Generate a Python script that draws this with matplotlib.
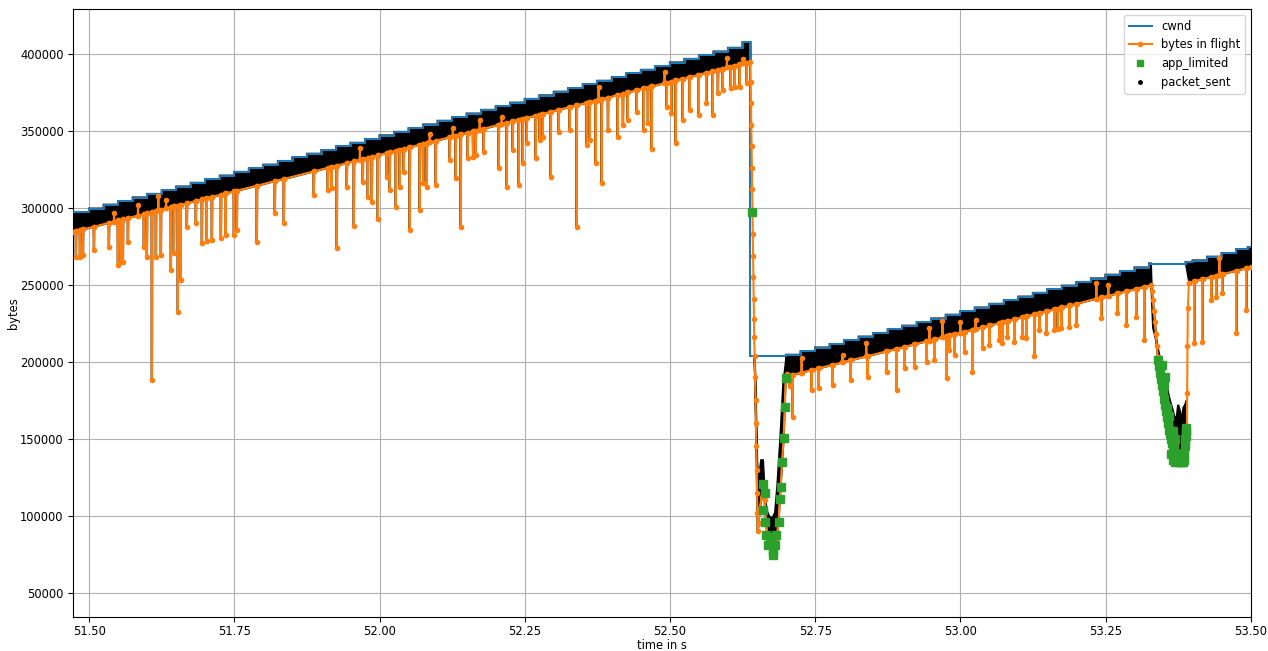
import matplotlib
matplotlib.use('Agg')
import matplotlib.pyplot as plt
from matplotlib.lines import Line2D

plt.rcParams['font.size'] = 8.3

# cwnd (step value starts at the given time)
cwnd1_t = [51.4725, 51.500, 51.525, 51.550, 51.575, 51.600, 51.625, 51.650, 51.675, 51.700,
           51.725, 51.750, 51.775, 51.800, 51.825, 51.850, 51.875, 51.900, 51.925, 51.950,
           51.975, 52.000, 52.025, 52.050, 52.075, 52.100, 52.125, 52.150, 52.175, 52.200,
           52.225, 52.250, 52.275, 52.300, 52.325, 52.350, 52.375, 52.400, 52.425, 52.450,
           52.475, 52.500, 52.525, 52.550, 52.575, 52.600, 52.625]
cwnd1_v = [297200, 299500, 302000, 304300, 306700, 309000, 311400, 313800, 316200, 318500,
           320900, 323300, 325600, 328000, 330400, 332800, 335100, 337500, 339900, 342200,
           344600, 347000, 349300, 351700, 354100, 356500, 358800, 361200, 363600, 365900,
           368300, 370700, 373000, 375400, 377800, 380200, 382500, 384900, 387300, 389600,
           392000, 394400, 396700, 399100, 401500, 403900, 407500]
cwnd1_end = 52.6385

cwnd2_t = [52.6385, 52.700, 52.725, 52.750, 52.775, 52.800, 52.825, 52.850, 52.875, 52.900,
           52.925, 52.950, 52.975, 53.000, 53.025, 53.050, 53.075, 53.100, 53.125, 53.150,
           53.175, 53.200, 53.225, 53.250, 53.275, 53.300, 53.325]
cwnd2_v = [204000, 204500, 206800, 209200, 211500, 213900, 216300, 218600, 221000, 223400,
           225700, 228100, 230500, 232800, 235200, 237600, 239900, 242300, 244700, 247000,
           249400, 251800, 254100, 256500, 258900, 261200, 263800]
cwnd2_end = 53.388

cwnd3_t = [53.388, 53.400, 53.425, 53.450, 53.475, 53.495]
cwnd3_v = [264800, 265800, 268200, 270600, 273000, 274500]
cwnd3_end = 53.5

# bytes in flight: spikes (time, spike value, baseline value) per segment
spk1_t = [51.4771, 51.4840, 51.4892, 51.5081, 51.5339, 51.5427, 51.5494, 51.5580, 51.5666, 51.5840,
          51.5993, 51.6079, 51.6148, 51.6190, 51.6234, 51.6323, 51.6406, 51.6526, 51.6681, 51.6836,
          51.6940, 51.7112, 51.7267, 51.7491, 51.7886, 51.8196, 51.8351, 51.8867, 51.9108, 51.9263,
          51.9435, 51.9556, 51.9660, 51.9711, 51.9866, 51.9969, 52.0124, 52.0279, 52.0416, 52.0519,
          52.0691, 52.0812, 52.0863, 52.0967, 52.1208, 52.1260, 52.1311, 52.1397, 52.1518, 52.1655,
          52.1723, 52.1793, 52.2051, 52.2102, 52.2189, 52.2292, 52.2395, 52.2533, 52.2688, 52.2808,
          52.2946, 52.3083, 52.3273, 52.3393, 52.3565, 52.3720, 52.3770, 52.3824, 52.4099, 52.4271,
          52.4426, 52.4547, 52.4684, 52.4907, 52.4943, 52.5098, 52.5218, 52.5493, 52.5734, 52.5906,
          52.5980, 52.6044, 52.6199, 52.6260, 52.6319,
          51.5540, 51.5941, 51.6458, 51.6573, 51.7020, 51.7347, 51.7542, 51.9172, 51.9797, 52.0175,
          52.0347, 52.0750, 52.1609, 52.2464, 52.2757, 52.3617, 52.3932, 52.4190, 52.4620, 52.5023,
          52.5338, 52.5625, 52.5825, 52.6112]
spk1_v = [268100, 268100, 269400, 272700, 274600, 296700, 262900, 264900, 277900, 301900,
          268100, 188200, 268100, 307700, 269400, 305100, 259700, 232400, 287600, 290200,
          277200, 279200, 280500, 282400, 277900, 296700, 290200, 308400, 311600, 273900,
          313600, 288300, 338900, 316800, 303800, 292800, 320100, 300600, 323300, 285600,
          298600, 313600, 348000, 314900, 331100, 351900, 319400, 287600, 332400, 334400,
          357100, 336300, 325900, 359100, 313600, 337600, 314900, 342200, 332400, 346100,
          320100, 349300, 350600, 287600, 340900, 329200, 378600, 316200, 346100, 357100,
          362300, 350600, 338300, 388300, 365600, 342200, 357100, 360400, 360400, 376600,
          397400, 377900, 378600, 396700, 381200,
          264900, 274800, 270700, 253200, 278500, 282400, 285600, 312900, 307300, 311600,
          313800, 316000, 333000, 329200, 344100, 344100, 350600, 353900, 355000, 361700,
          363600, 368200, 374700, 378800]
spk1_base = [284900, 285600, 286000, 287800, 290300, 291100, 291800, 292600, 293400, 295000,
             296500, 297300, 298000, 298400, 298800, 299600, 300400, 301500, 303000, 304500,
             305500, 307100, 308600, 310700, 314400, 317400, 318800, 323700, 326000, 327500,
             329100, 330300, 331200, 331700, 333200, 334200, 335600, 337100, 338400, 339400,
             341000, 342200, 342600, 343600, 345900, 346400, 346900, 347700, 348900, 350200,
             350800, 351500, 353900, 354400, 355200, 356200, 357200, 358500, 360000, 361100,
             362400, 363700, 365500, 366600, 368300, 369700, 370200, 370700, 373300, 375000,
             376400, 377600, 378900, 381000, 381300, 382800, 383900, 386500, 388800, 390500,
             391200, 391800, 393200, 393800, 394400,
             291700, 296000, 300900, 302000, 306300, 309400, 311200, 326800, 332500, 336100,
             337800, 341600, 349700, 357900, 360600, 368800, 371700, 374200, 378200, 382100,
             385000, 387800, 389700, 392400]
seg1_start = (51.4725, 284500)
seg1_end = (52.6385, 395000)

# drop after the loss and first dip
dip1_t = [52.6390, 52.6395, 52.6400, 52.6405, 52.6410, 52.6415, 52.6420, 52.6425, 52.6430, 52.6435,
          52.6440, 52.6445, 52.6450, 52.6457, 52.6465, 52.6473, 52.6480, 52.6487, 52.6494, 52.6500,
          52.6505, 52.6510, 52.6526, 52.6543, 52.6578, 52.6600, 52.6629, 52.6658, 52.6680, 52.6732,
          52.6771, 52.6830, 52.6870, 52.6887, 52.6904, 52.6927, 52.6956, 52.6973, 52.6991, 52.7008]
dip1_v = [382000, 368000, 354000, 340000, 326000, 312000, 297000, 283000, 269000, 255000,
          241000, 228000, 216000, 204000, 190000, 175000, 160000, 145000, 130000, 115000,
          102000, 90000, 95000, 105000, 112000, 121000, 110000, 95000, 86000, 82000,
          78000, 85000, 96000, 110000, 118000, 134000, 150000, 170000, 189000, 192000]
dip1_top_t = [52.6457, 52.6480, 52.6500, 52.6520, 52.6545, 52.6570, 52.6600, 52.6630, 52.6660,
              52.6700, 52.6760, 52.6810, 52.6850, 52.6900, 52.6950, 52.7008]
dip1_top_v = [204000, 170000, 135000, 125000, 128000, 136000, 136000, 115000, 104000,
              100000, 98000, 102000, 120000, 150000, 185000, 204000]

spk2_t = [52.7059, 52.7111, 52.7266, 52.7438, 52.7558, 52.7799, 52.7971, 52.8109, 52.8380, 52.8401,
          52.8728, 52.8901, 52.9038, 52.9210, 52.9417, 52.9468, 52.9554, 52.9692, 52.9761, 52.9899,
          53.0000, 53.0071, 53.0208, 53.0262, 53.0381, 53.0501, 53.0725, 53.0811, 53.0931, 53.1138,
          53.1275, 53.1482, 53.1620, 53.1740, 53.1878, 53.1998, 53.2342, 53.2427, 53.2548, 53.2704,
          53.2859, 53.3031, 53.3169,
          52.9812, 53.0673, 53.1069, 53.1362, 53.1677]
spk2_v = [184300, 164000, 202500, 181700, 183000, 184900, 204400, 188100, 212200, 190000,
          193400, 181700, 196000, 196600, 199900, 222000, 201200, 226500, 189500, 204400,
          225900, 206400, 193400, 227200, 209000, 210900, 212200, 216100, 212900, 215500,
          203800, 218700, 220700, 222000, 222600, 223900, 251200, 228500, 249900, 231700,
          223900, 229100, 214200,
          207700, 214200, 216300, 220700, 221300]
spk2_base = [191100, 191500, 193000, 194600, 195800, 198000, 199700, 201000, 203500, 203700,
             206800, 208400, 209700, 211400, 213300, 213800, 214600, 215900, 216600, 217900,
             218800, 219500, 220800, 221300, 222400, 223600, 225700, 226500, 227600, 229600,
             230900, 232800, 234100, 235300, 236600, 237700, 241000, 241800, 242900, 244400,
             245800, 247400, 248800,
             217100, 225200, 228900, 231700, 234600]
seg2_start = (52.7025, 191000)
seg2_end = (53.3280, 249800)

# second dip
dip2_t = [53.3297, 53.3314, 53.3331, 53.3349, 53.3366, 53.3383, 53.3400, 53.3435, 53.3469, 53.3504,
          53.3538, 53.3573, 53.3607, 53.3642, 53.3676, 53.3711, 53.3745, 53.3779, 53.3814, 53.3848,
          53.3883, 53.3900, 53.3905, 53.3910, 53.3917, 53.3934]
dip2_v = [246000, 240000, 233000, 226000, 218000, 210000, 203000, 195000, 188000, 181000,
          174000, 168000, 162000, 156000, 150000, 146000, 142000, 139000, 137000, 135000,
          136000, 150000, 180000, 210000, 235000, 251000]
dip2_top_t = [53.3280, 53.3300, 53.3320, 53.3360, 53.3420, 53.3480, 53.3540, 53.3600, 53.3660,
              53.3700, 53.3730, 53.3750, 53.3780, 53.3810, 53.3840, 53.3870, 53.3900]
dip2_top_v = [263500, 240000, 222000, 216000, 205000, 196000, 186000, 176000, 168000,
              162000, 165000, 172000, 168000, 160000, 170000, 172000, 175000]

spk3_t = [53.4029, 53.4167, 53.4322, 53.4408, 53.4460, 53.4511, 53.4752, 53.4924]
spk3_v = [212200, 212900, 240100, 242100, 267500, 244700, 218700, 233700]
spk3_base = [252400, 253700, 255200, 256000, 256500, 256900, 259200, 260800]
seg3_start = (53.3945, 251100)
seg3_end = (53.5, 261500)

# app_limited markers
app_t = [52.6420, 52.6600, 52.6629, 52.6600, 52.6641, 52.6658, 52.6680, 52.6715, 52.6744, 52.6766,
         52.6771, 52.6801, 52.6830, 52.6870, 52.6887, 52.6904, 52.6927, 52.6956, 52.6973, 52.6991,
         53.3400, 53.3417, 53.3435, 53.3452, 53.3469, 53.3486, 53.3504, 53.3521, 53.3538, 53.3556,
         53.3573, 53.3590, 53.3607, 53.3625, 53.3642, 53.3659, 53.3676, 53.3693, 53.3711, 53.3728,
         53.3745, 53.3762, 53.3779, 53.3797, 53.3814, 53.3831, 53.3848, 53.3866, 53.3883, 53.3890,
         53.3470, 53.3500, 53.3520, 53.3560, 53.3590, 53.3625, 53.3660, 53.3660, 53.3690, 53.3700,
         53.3740, 53.3850, 53.3870, 53.3880]
app_v = [297000, 120900, 114800, 103700, 96100, 87500, 81000, 84200, 86200, 74500,
         77400, 81000, 87500, 96100, 110900, 118400, 134600, 150700, 170700, 189200,
         201000, 197000, 193000, 189000, 185000, 181000, 176000, 172000, 168000, 164000,
         160000, 156000, 153000, 150000, 147000, 145000, 143000, 141000, 139000, 138000,
         137000, 136000, 135500, 135000, 135000, 135000, 136000, 145000, 152000, 157000,
         198000, 185000, 190000, 170000, 165000, 140000, 136000, 155000, 150000, 135000,
         135000, 140000, 150000, 155000]


def spike_path(start, end, ts, vs, bases, d=0.0005):
    xs, ys = [start[0]], [start[1]]
    for t, v, b in sorted(zip(ts, vs, bases)):
        xs += [t - d, t, t + d]
        ys += [b, v, b]
    xs.append(end[0])
    ys.append(end[1])
    return xs, ys


def step_path(ts, vs, t_end):
    xs, ys = [], []
    for i in range(len(ts)):
        nxt = ts[i + 1] if i + 1 < len(ts) else t_end
        xs += [ts[i], nxt]
        ys += [vs[i], vs[i]]
    return xs, ys


def band(ax, top_x, top_y, bot_x, bot_y):
    #packet_sent dots fill the space between bytes in flight and cwnd
    ax.fill(list(top_x) + list(bot_x[::-1]), list(top_y) + list(bot_y[::-1]),
            facecolor='black', edgecolor='black', lw=1.6, zorder=2)


fig = plt.figure(figsize=(12.68, 6.51), dpi=100)
ax = fig.add_axes([0.0578, 0.0522, 0.9286, 0.9335])

s1x, s1y = spike_path(seg1_start, seg1_end, spk1_t, spk1_v, spk1_base)
s2x, s2y = spike_path(seg2_start, seg2_end, spk2_t, spk2_v, spk2_base)
s3x, s3y = spike_path(seg3_start, seg3_end, spk3_t, spk3_v, spk3_base)

c1x, c1y = step_path(cwnd1_t, cwnd1_v, cwnd1_end)
c2x, c2y = step_path(cwnd2_t, cwnd2_v, cwnd2_end)
c3x, c3y = step_path(cwnd3_t, cwnd3_v, cwnd3_end)

# black bands
band(ax, c1x, c1y, s1x, s1y)
b2x, b2y = step_path(cwnd2_t[1:], cwnd2_v[1:], seg2_end[0])
band(ax, b2x, b2y, s2x, s2y)
band(ax, c3x, c3y, s3x, s3y)
d1x = [t for t in dip1_t if t >= dip1_top_t[0]]
d1y = dip1_v[len(dip1_t) - len(d1x):]
band(ax, dip1_top_t, dip1_top_v, d1x, d1y)
d2x = [seg2_end[0]] + [t for t in dip2_t if t <= dip2_top_t[-1]]
d2y = [seg2_end[1]] + dip2_v[:len(d2x) - 1]
band(ax, dip2_top_t, dip2_top_v, d2x, d2y)

ax.plot(c1x + c2x + c3x, c1y + c2y + c3y, color='C0', lw=1.5, zorder=3)

bx = s1x + dip1_t + s2x + dip2_t + s3x
by = s1y + dip1_v + s2y + dip2_v + s3y
ax.plot(bx, by, '.-', color='C1', lw=1.5, ms=6, zorder=4)

ax.plot(app_t, app_v, 's', color='C2', ms=5.5, zorder=5)

handles = [Line2D([], [], color='C0', lw=1.5),
           Line2D([], [], color='C1', lw=1.5, marker='.', ms=6),
           Line2D([], [], color='C2', ls='', marker='s', ms=5),
           Line2D([], [], color='black', ls='', marker='.', ms=5)]
ax.legend(handles, ['cwnd', 'bytes in flight', 'app_limited', 'packet_sent'], loc='upper right')

ax.set_xlim(51.4725, 53.5)
ax.set_ylim(34200, 429000)
ax.grid()
ax.tick_params(axis='x', pad=2)
ax.set_xlabel('time in s', labelpad=1)
ax.set_ylabel('bytes', labelpad=0)

fig.savefig('out.png', dpi=100)
